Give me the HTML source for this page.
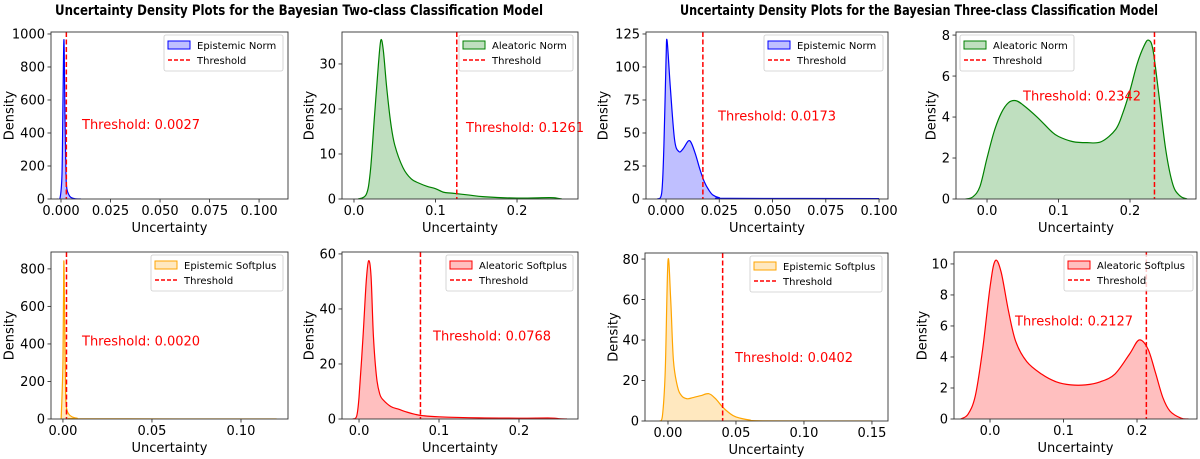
<!DOCTYPE html>
<html><head><meta charset="utf-8">
<style>
html,body{margin:0;padding:0;background:#fff;}
svg{display:block;}
text{font-family:"DejaVu Sans","Liberation Sans",sans-serif;}
</style></head>
<body>
<svg id="fig" width="1200" height="459" viewBox="0 0 1200 459" xmlns="http://www.w3.org/2000/svg">
<text x="55" y="15" font-size="14" font-weight="bold" textLength="488" lengthAdjust="spacingAndGlyphs" style="font-family:'DejaVu Sans','Liberation Sans',sans-serif">Uncertainty Density Plots for the Bayesian Two-class Classification Model</text>
<text x="680" y="15" font-size="14" font-weight="bold" textLength="478" lengthAdjust="spacingAndGlyphs" style="font-family:'DejaVu Sans','Liberation Sans',sans-serif">Uncertainty Density Plots for the Bayesian Three-class Classification Model</text>
</svg>
<script>
// ---- data arrays (uncertainty grid / density values) ----
const p1X=[-0.002,-0.0005,0.0005,0.001,0.0015,0.002,0.0025,0.003,0.004,0.005,0.007,0.01];
const p1Y=[0,5,150,600,965,500,150,60,25,10,2,0];
const p2X=[0.005,0.015,0.02,0.025,0.03,0.033,0.036,0.04,0.045,0.05,0.06,0.07,0.08,0.09,0.1,0.11,0.12,0.14,0.16,0.2,0.24,0.25,0.255];
const p2Y=[0,1,6,18,30,35.3,33,25,17,12,7,4.5,3.5,2.8,2.3,1.5,1.3,0.9,0.5,0.2,0.3,0.15,0];
const p3X=[-0.004,-0.002,-0.001,0,0.0005,0.002,0.004,0.006,0.008,0.0105,0.012,0.014,0.016,0.018,0.02,0.022,0.025,0.03,0.1];
const p3Y=[0,5,40,105,120,85,45,36,38,44,42,33,22,13,7,3,1,0.5,0.3];
const p4X=[-0.03,-0.02,-0.01,0,0.01,0.02,0.03,0.04,0.05,0.07,0.09,0.1,0.12,0.14,0.16,0.18,0.19,0.2,0.21,0.22,0.226,0.232,0.24,0.25,0.26,0.27,0.28];
const p4Y=[0,0.1,0.6,2.0,3.3,4.2,4.7,4.8,4.6,4.0,3.3,3.05,2.8,2.75,2.8,3.4,4.2,5.3,6.6,7.5,7.75,7.3,5.2,2.4,0.7,0.15,0];
const p5X=[-0.001,0,0.0005,0.001,0.0015,0.002,0.003,0.005,0.008,0.012,0.12];
const p5Y=[0,300,840,500,150,60,30,12,4,1,0];
const p6X=[-0.008,-0.003,0,0.005,0.009,0.012,0.015,0.018,0.022,0.026,0.03,0.04,0.05,0.06,0.07,0.08,0.1,0.15,0.2,0.24,0.25,0.26];
const p6Y=[0,1,8,30,50,57.5,52,30,15,9,7,4.5,3.5,2.5,1.7,1.2,0.8,0.4,0.3,0.35,0.1,0];
const p7X=[-0.006,-0.004,-0.002,0,0.002,0.004,0.007,0.01,0.014,0.018,0.024,0.03,0.035,0.04,0.045,0.05,0.06,0.07,0.15];
const p7Y=[0,3,25,79,60,30,17,12.5,11,11.5,12.5,13.5,11,7,4,2,0.5,0.1,0];
const p8X=[-0.04,-0.03,-0.02,-0.01,0,0.007,0.015,0.025,0.035,0.05,0.07,0.09,0.11,0.13,0.15,0.17,0.19,0.203,0.215,0.225,0.235,0.245,0.26,0.27];
const p8Y=[0,0.3,1.5,4.5,8.5,10.2,9.5,7,5,3.7,2.9,2.4,2.2,2.2,2.4,2.9,4.2,5.1,4.5,3,1.4,0.5,0.05,0];
const thresholds=[0.0027,0.1261,0.0173,0.2342,0.0020,0.0768,0.0402,0.2127];
const seriesNames=["Epistemic Norm","Aleatoric Norm","Epistemic Norm","Aleatoric Norm","Epistemic Softplus","Aleatoric Softplus","Epistemic Softplus","Aleatoric Softplus"];
const p1XTicks=[0,0.025,0.05,0.075,0.1], p1XLab=["0.000","0.025","0.050","0.075","0.100"];
const p2XTicks=[0,0.1,0.2], p2XLab=["0.0","0.1","0.2"];
const p3XTicks=[0,0.025,0.05,0.075,0.1], p3XLab=["0.000","0.025","0.050","0.075","0.100"];
const p4XTicks=[0,0.1,0.2], p4XLab=["0.0","0.1","0.2"];
const p5XTicks=[0,0.05,0.1], p5XLab=["0.00","0.05","0.10"];
const p6XTicks=[0,0.1,0.2], p6XLab=["0.0","0.1","0.2"];
const p7XTicks=[0,0.05,0.1,0.15], p7XLab=["0.00","0.05","0.10","0.15"];
const p8XTicks=[0,0.1,0.2], p8XLab=["0.0","0.1","0.2"];
const p1YTicks=[0,200,400,600,800,1000];
const p2YTicks=[0,10,20,30];
const p3YTicks=[0,25,50,75,100,125];
const p4YTicks=[0,2,4,6,8];
const p5YTicks=[0,200,400,600,800];
const p6YTicks=[0,20,40,60];
const p7YTicks=[0,20,40,60,80];
const p8YTicks=[0,2,4,6,8,10];

// ---- layout ----
const panels=[
 {x:p1X,y:p1Y,xt:p1XTicks,xl:p1XLab,yt:p1YTicks,box:[51,288,32,199],xd:[-0.00505,0.1146],yd:[0,1012],col:"0,0,255",leg:[164,283,'r'],txt:[82,0.55],dl:9},
 {x:p2X,y:p2Y,xt:p2XTicks,xl:p2XLab,yt:p2YTicks,box:[342,578,32,199],xd:[-0.0147,0.2748],yd:[0,37.1],col:"0,128,0",leg:[459,573,'r'],txt:[466,0.57],dl:309},
 {x:p3X,y:p3Y,xt:p3XTicks,xl:p3XLab,yt:p3YTicks,box:[646,888,32,199],xd:[-0.0094,0.1042],yd:[0,126.5],col:"0,0,255",leg:[764,883,'r'],txt:[718,0.5],dl:603},
 {x:p4X,y:p4Y,xt:p4XTicks,xl:p4XLab,yt:p4YTicks,box:[956,1196,32,199],xd:[-0.0434,0.2923],yd:[0,8.15],col:"0,128,0",leg:[960,1074,'l'],txt:[1023,0.38],dl:931},
 {x:p5X,y:p5Y,xt:p5XTicks,xl:p5XLab,yt:p5YTicks,box:[51,288,252,419],xd:[-0.0067,0.1264],yd:[0,890],col:"255,165,0",leg:[151,283,'r'],txt:[82,0.53],dl:9},
 {x:p6X,y:p6Y,xt:p6XTicks,xl:p6XLab,yt:p6YTicks,box:[342,578,252,419],xd:[-0.0213,0.2738],yd:[0,60.7],col:"255,0,0",leg:[446,573,'r'],txt:[433,0.5],dl:309},
 {x:p7X,y:p7Y,xt:p7XTicks,xl:p7XLab,yt:p7YTicks,box:[645,888,253,421],xd:[-0.0169,0.1618],yd:[0,83],col:"255,165,0",leg:[750,882,'r'],txt:[735,0.62],dl:613},
 {x:p8X,y:p8Y,xt:p8XTicks,xl:p8XLab,yt:p8YTicks,box:[954,1197,252,419],xd:[-0.049,0.2816],yd:[0,10.77],col:"255,0,0",leg:[1064,1193,'r'],txt:[1015,0.41],dl:922}
];
const NS="http://www.w3.org/2000/svg";
const svg=document.getElementById('fig');
function mk(tag,attrs,parent){const e=document.createElementNS(NS,tag);for(const k in attrs)e.setAttribute(k,attrs[k]);(parent||svg).appendChild(e);return e;}
function smooth(pts){let d="M"+pts[0][0]+","+pts[0][1];for(let i=0;i<pts.length-1;i++){const p0=pts[Math.max(0,i-1)],p1=pts[i],p2=pts[i+1],p3=pts[Math.min(pts.length-1,i+2)];const c1x=p1[0]+(p2[0]-p0[0])/6,c1y=p1[1]+(p2[1]-p0[1])/6,c2x=p2[0]-(p3[0]-p1[0])/6,c2y=p2[1]-(p3[1]-p1[1])/6;d+=` C${c1x.toFixed(2)},${c1y.toFixed(2)} ${c2x.toFixed(2)},${c2y.toFixed(2)} ${p2[0].toFixed(2)},${p2[1].toFixed(2)}`;}return d;}
panels.forEach((p,i)=>{
 const [L,R,T,B]=p.box;
 const sx=v=>L+(v-p.xd[0])/(p.xd[1]-p.xd[0])*(R-L);
 const sy=v=>B-(v-p.yd[0])/(p.yd[1]-p.yd[0])*(B-T);
 const g=mk('g',{});
 
 
 const cid='clip'+i;
 const cp=mk('clipPath',{id:cid},g);mk('rect',{x:L,y:T,width:R-L,height:B-T},cp);
 const pts=p.x.map((v,k)=>[sx(v),sy(p.y[k])]);
 const line=smooth(pts);
 const area=mk('path',{d:line+` L${pts[pts.length-1][0]},${sy(0)} L${pts[0][0]},${sy(0)} Z`,fill:`rgba(${p.col},0.25)`,stroke:'none','clip-path':`url(#${cid})`},g);
 
 
 const ln=mk('path',{d:line,fill:'none',stroke:`rgb(${p.col})`,'stroke-width':1.2,'clip-path':`url(#${cid})`},g);
 
 
 const tx=sx(thresholds[i]);
 const th=mk('line',{x1:tx,x2:tx,y1:T,y2:B,stroke:'red','stroke-width':1.5,'stroke-dasharray':'5,2.5'},g);
 
 
 const tt=mk('text',{x:p.txt[0],y:T+(B-T)*p.txt[1]+5,'font-size':13,fill:'red'},g);
 tt.textContent='Threshold: '+thresholds[i].toFixed(4);
 
 
 const fr=mk('rect',{x:L,y:T,width:R-L,height:B-T,fill:'none',stroke:'#333','stroke-width':0.9},g);
 
 
 p.xt.forEach((v,k)=>{const x=sx(v);mk('line',{x1:x,x2:x,y1:B,y2:B+3.5,stroke:'#333','stroke-width':0.9},g);
  const t=mk('text',{x:x,y:B+16,'font-size':13,'text-anchor':'middle',fill:'#000'},g);t.textContent=p.xl[k];
  
  });
 p.yt.forEach(v=>{const y=sy(v);mk('line',{x1:L-3.5,x2:L,y1:y,y2:y,stroke:'#333','stroke-width':0.9},g);
  const t=mk('text',{x:L-6,y:y+4.7,'font-size':13,'text-anchor':'end',fill:'#000'},g);t.textContent=String(v);
  
  });
 const xl=mk('text',{x:(L+R)/2,y:B+33,'font-size':13,'text-anchor':'middle'},g);xl.textContent='Uncertainty';
 
 
 const yc=(T+B)/2;
 const yl=mk('text',{x:p.dl+4.5,y:yc,'font-size':13,'text-anchor':'middle',transform:`rotate(-90 ${p.dl+4.5} ${yc})`},g);yl.textContent='Density';
 
 
 // legend
 const lx=p.leg[0],lw=p.leg[1]-p.leg[0],ly=T+3;
 const lg=mk('g',{},g);
 
 
 mk('rect',{x:lx,y:ly,width:lw,height:36,rx:2,fill:'rgba(255,255,255,0.8)',stroke:'#ccc','stroke-width':0.8},lg);
 mk('rect',{x:lx+4,y:ly+6,width:22,height:8,fill:`rgba(${p.col},0.25)`,stroke:`rgb(${p.col})`,'stroke-width':1},lg);
 const l1=mk('text',{x:lx+33,y:ly+14,'font-size':10},lg);l1.textContent=seriesNames[i];
 
 
 mk('line',{x1:lx+4,x2:lx+26,y1:ly+25,y2:ly+25,stroke:'red','stroke-width':1.5,'stroke-dasharray':'4,2'},lg);
 const l2=mk('text',{x:lx+33,y:ly+29,'font-size':10},lg);l2.textContent='Threshold';
 
 
});
</script>
</body></html>
